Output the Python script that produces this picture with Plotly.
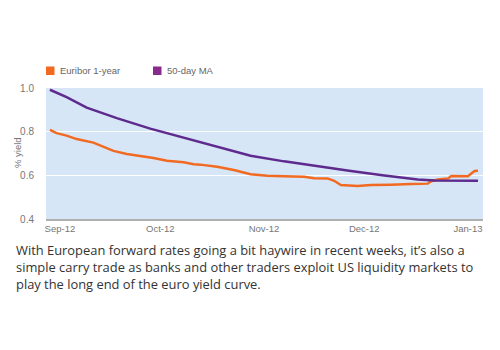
import plotly.graph_objects as go

# Data
euribor_dates = ["2012-08-29", "2012-08-31", "2012-09-03", "2012-09-06", "2012-09-11", "2012-09-14",
                 "2012-09-17", "2012-09-21", "2012-09-25", "2012-09-29", "2012-10-03", "2012-10-08",
                 "2012-10-11", "2012-10-13", "2012-10-18", "2012-10-23", "2012-10-28", "2012-11-02",
                 "2012-11-07", "2012-11-13", "2012-11-16", "2012-11-20", "2012-11-22", "2012-11-24",
                 "2012-11-29", "2012-12-03", "2012-12-09", "2012-12-14", "2012-12-15", "2012-12-20",
                 "2012-12-21", "2012-12-23", "2012-12-26", "2012-12-27", "2013-01-01", "2013-01-02",
                 "2013-01-03", "2013-01-04"]
euribor_vals = [0.808, 0.793, 0.782, 0.766, 0.750, 0.732,
                0.712, 0.698, 0.689, 0.679, 0.667, 0.660,
                0.651, 0.649, 0.639, 0.624, 0.605, 0.598,
                0.596, 0.593, 0.587, 0.586, 0.575, 0.556,
                0.551, 0.556, 0.557, 0.557, 0.560, 0.562,
                0.573, 0.581, 0.585, 0.597, 0.596, 0.608,
                0.620, 0.621]

ma_dates = ["2012-08-29", "2012-09-03", "2012-09-09", "2012-09-18", "2012-09-28", "2012-10-08",
            "2012-10-18", "2012-10-28", "2012-11-07", "2012-11-17", "2012-11-27", "2012-12-07",
            "2012-12-17", "2012-12-22", "2012-12-27", "2013-01-04"]
ma_vals = [0.992, 0.958, 0.910, 0.862, 0.814, 0.773,
           0.730, 0.690, 0.664, 0.641, 0.620, 0.599,
           0.581, 0.576, 0.575, 0.575]

series_names = ["Euribor 1-year", "50-day MA"]
tick_dates = ["2012-09-01", "2012-10-01", "2012-11-01", "2012-12-01", "2013-01-01"]
tick_labels = ["Sep-12", "Oct-12", "Nov-12", "Dec-12", "Jan-13"]
y_ticks = [0.4, 0.6, 0.8, 1.0]
y_tick_labels = ["0.4", "0.6", "0.8", "1.0"]
y_title = "% yield"

caption = ("With European forward rates going a bit haywire in recent weeks, it\u2019s also a<br>"
           "simple carry trade as banks and other traders exploit US liquidity markets to<br>"
           "play the long end of the euro yield curve.")

ORANGE = "#f26a21"
PURPLE = "#5f2a8e"
LEG_PURPLE = "#8a2a8c"
LABEL_FONT = "Liberation Sans, Arial, sans-serif"

fig = go.Figure()
fig.add_trace(go.Scatter(x=euribor_dates, y=euribor_vals, mode="lines", name=series_names[0],
                         line=dict(color=ORANGE, width=2.5), showlegend=False))
fig.add_trace(go.Scatter(x=ma_dates, y=ma_vals, mode="lines", name=series_names[1],
                         line=dict(color=PURPLE, width=2.5), showlegend=False))

# Manual legend (square swatches close to text), in paper coordinates
L, W, B, H = 46, 437, 219, 131  # plot area in pixels
def px(x):
    return (x - L) / W
def py(y):
    return (B - y) / H

shapes = []
annotations = []
for name, color, sx in [(series_names[0], ORANGE, 46), (series_names[1], LEG_PURPLE, 153)]:
    shapes.append(dict(type="rect", xref="paper", yref="paper",
                       x0=px(sx), x1=px(sx + 8.5), y0=py(75), y1=py(66.5),
                       fillcolor=color, line=dict(width=0)))
    annotations.append(dict(text=name, xref="paper", yref="paper", x=px(sx + 12), y=py(70.8),
                            xanchor="left", yanchor="middle", showarrow=False,
                            font=dict(family=LABEL_FONT, size=9.5, color="#666666")))

annotations.append(dict(text=y_title, xref="paper", yref="paper", x=px(17), y=py(153),
                        xanchor="center", yanchor="middle", textangle=-90, showarrow=False,
                        font=dict(family=LABEL_FONT, size=9.5, color="#777777")))
annotations.append(dict(
    text=caption, xref="paper", yref="paper",
    x=px(14), y=-0.155, xanchor="left", yanchor="top",
    align="left", showarrow=False,
    font=dict(family="Open Sans, Lato, sans-serif", size=12.9, color="#333333"),
))

fig.update_layout(
    width=500, height=350,
    margin=dict(l=46, r=17, t=88, b=131),
    paper_bgcolor="white",
    plot_bgcolor="#d6e6f6",
    font=dict(family=LABEL_FONT, color="#777777", size=10),
    showlegend=False,
    xaxis=dict(
        type="date",
        range=["2012-08-27 20:00", "2013-01-05 12:00"],
        tickvals=tick_dates, ticktext=tick_labels,
        showgrid=False, zeroline=False,
        showline=True, linecolor="#b0b0b0", linewidth=2,
        ticks="", tickfont=dict(size=9.5, color="#777777"),
    ),
    yaxis=dict(
        range=[0.4, 1.0],
        tickvals=y_ticks, ticktext=y_tick_labels,
        showgrid=True, gridcolor="white", gridwidth=1,
        zeroline=False, showline=False,
        ticks="", ticklabelstandoff=11,
        tickfont=dict(size=10, color="#777777"),
    ),
    shapes=shapes,
    annotations=annotations,
)

fig.write_html("out.html")
